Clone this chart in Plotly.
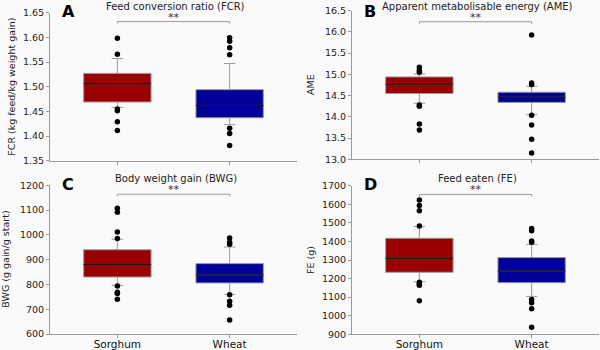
import plotly.graph_objects as go

groups = ["Sorghum", "Wheat"]
panel_letters = ["A", "B", "C", "D"]
panel_titles = ["Feed conversion ratio (FCR)", "Apparent metabolisable energy (AME)",
                "Body weight gain (BWG)", "Feed eaten (FE)"]
y_titles = ["FCR (kg feed/kg weight gain)", "AME", "BWG (g gain/g start)", "FE (g)"]
sig_text = "**"

# FCR
fcr_q1 = [1.469, 1.437]
fcr_median = [1.506, 1.462]
fcr_q3 = [1.527, 1.494]
fcr_lower = [1.458, 1.423]
fcr_upper = [1.557, 1.547]
fcr_out_sorghum = [1.598, 1.566, 1.455, 1.451, 1.429, 1.411]
fcr_out_wheat = [1.599, 1.592, 1.579, 1.565, 1.416, 1.405, 1.381]

# AME
ame_q1 = [14.55, 14.34]
ame_median = [14.77, 14.46]
ame_q3 = [14.94, 14.58]
ame_lower = [14.32, 14.05]
ame_upper = [15.01, 14.72]
ame_out_sorghum = [15.17, 15.09, 15.05, 14.28, 14.25, 13.83, 13.69]
ame_out_wheat = [15.93, 14.80, 14.76, 14.04, 13.81, 13.47, 13.15]

# BWG
bwg_q1 = [830, 806]
bwg_median = [880, 838]
bwg_q3 = [940, 884]
bwg_lower = [796, 760]
bwg_upper = [982, 951]
bwg_out_sorghum = [1107, 1091, 1012, 985, 794, 768, 763, 740]
bwg_out_wheat = [987, 970, 962, 758, 732, 716, 656]

# FE
fe_q1 = [1234, 1178]
fe_median = [1309, 1241]
fe_q3 = [1417, 1313]
fe_lower = [1183, 1104]
fe_upper = [1481, 1384]
fe_out_sorghum = [1623, 1594, 1565, 1483, 1180, 1171, 1164, 1081]
fe_out_wheat = [1470, 1458, 1402, 1395, 1088, 1070, 1038, 938]

bracket_levels = [1.632, 16.24, 1164, 1653]
y_ranges = [[1.35, 1.65], [13.0, 16.5], [600, 1200], [900, 1700]]
y_dticks = [0.05, 0.5, 100, 100]
y_formats = [".2f", ".1f", "d", "d"]

stats = [
    (fcr_q1, fcr_median, fcr_q3, fcr_lower, fcr_upper, [fcr_out_sorghum, fcr_out_wheat]),
    (ame_q1, ame_median, ame_q3, ame_lower, ame_upper, [ame_out_sorghum, ame_out_wheat]),
    (bwg_q1, bwg_median, bwg_q3, bwg_lower, bwg_upper, [bwg_out_sorghum, bwg_out_wheat]),
    (fe_q1, fe_median, fe_q3, fe_lower, fe_upper, [fe_out_sorghum, fe_out_wheat]),
]

fills = ["#990000", "#000099"]
W, H = 600, 350
FONT = "DejaVu Sans"
grey = "#9a9a9a"

# pixel layout of plot areas: (x0, x1, ytop, ybottom)
areas = [(50, 297, 12.7, 160.7), (352, 599, 10.7, 159.3),
         (50, 297, 185.3, 334.0), (352, 599, 185.7, 334.3)]
# pixel centres of panel titles and letters (y)
title_y = [6.5, 6.5, 178.5, 178.5]
letter_y = [11.0, 11.0, 184.0, 184.0]

fig = go.Figure()
layout = {}
annotations = []

for p in range(4):
    x0, x1, yt, yb = areas[p]
    xa = "x" if p == 0 else f"x{p+1}"
    ya = "y" if p == 0 else f"y{p+1}"
    xkey = "xaxis" if p == 0 else f"xaxis{p+1}"
    ykey = "yaxis" if p == 0 else f"yaxis{p+1}"
    q1, med, q3, lo, up, outs = stats[p]

    for i, g in enumerate(groups):
        fig.add_trace(go.Box(
            x=[g], q1=[q1[i]], median=[med[i]], q3=[q3[i]],
            lowerfence=[lo[i]], upperfence=[up[i]],
            fillcolor=fills[i], line=dict(color=grey, width=1),
            width=0.6, whiskerwidth=0.17, boxpoints=False,
            xaxis=xa, yaxis=ya, showlegend=False, hoverinfo="skip"))
        # darker median line
        fig.add_trace(go.Box(
            x=[g], q1=[med[i]], median=[med[i]], q3=[med[i]],
            lowerfence=[med[i]], upperfence=[med[i]],
            fillcolor="rgba(0,0,0,0)", line=dict(color="rgba(0,0,0,0.5)", width=1),
            width=0.6, whiskerwidth=0, boxpoints=False,
            xaxis=xa, yaxis=ya, showlegend=False, hoverinfo="skip"))
        fig.add_trace(go.Scatter(
            x=[g] * len(outs[i]), y=outs[i], mode="markers",
            marker=dict(color="black", size=5.5),
            xaxis=xa, yaxis=ya, showlegend=False, hoverinfo="skip"))

    # significance bracket
    span = y_ranges[p][1] - y_ranges[p][0]
    top = bracket_levels[p]
    low = top - 0.014 * span
    fig.add_trace(go.Scatter(
        x=[groups[0], groups[0], groups[1], groups[1]], y=[low, top, top, low],
        mode="lines", line=dict(color=grey, width=1),
        xaxis=xa, yaxis=ya, showlegend=False, hoverinfo="skip"))
    annotations.append(dict(x=0.5, y=top, xref=xa, yref=ya, text=sig_text,
                            showarrow=False, yanchor="bottom", yshift=-4,
                            font=dict(family=FONT, size=11, color="#333333")))

    layout[xkey] = dict(
        domain=[x0 / W, x1 / W], anchor=ya, type="category",
        categoryorder="array", categoryarray=groups, range=[-0.6, 1.6],
        showline=True, linecolor=grey, linewidth=1, ticks="outside",
        ticklen=3, tickcolor=grey, showgrid=False, zeroline=False,
        showticklabels=(p >= 2), automargin=False, ticklabelstandoff=-3,
        tickfont=dict(family=FONT, size=10.5, color="#111111"))
    layout[ykey] = dict(
        domain=[1 - yb / H, 1 - yt / H], anchor=xa, range=y_ranges[p],
        dtick=y_dticks[p], tickformat=y_formats[p],
        showline=True, linecolor=grey, linewidth=1, ticks="outside",
        ticklen=3, tickcolor=grey, showgrid=False, zeroline=False,
        automargin=False,
        tickfont=dict(family=FONT, size=9.5, color="#222222"))

    # panel title
    annotations.append(dict(x=(x0 + x1) / 2 / W + 0.004, y=1 - title_y[p] / H,
                            xref="paper", yref="paper", text=panel_titles[p],
                            showarrow=False, xanchor="center", yanchor="middle",
                            font=dict(family=FONT, size=10, color="#222222")))
    # panel letter
    annotations.append(dict(x=(x0 + 10) / W, y=1 - letter_y[p] / H,
                            xref="paper", yref="paper", text=f"<b>{panel_letters[p]}</b>",
                            showarrow=False, xanchor="left", yanchor="middle",
                            font=dict(family=FONT, size=16, color="black")))
    # y title
    ytx = [12, 310, 6, 310][p]
    annotations.append(dict(x=ytx / W, y=1 - (yt + yb) / 2 / H,
                            xref="paper", yref="paper", text=y_titles[p],
                            textangle=-90, showarrow=False,
                            xanchor="center", yanchor="middle",
                            font=dict(family=FONT, size=9.5, color="#222222")))

fig.update_layout(
    width=W, height=H, margin=dict(l=0, r=0, t=0, b=0),
    paper_bgcolor="#fafafa", plot_bgcolor="#fafafa",
    boxmode="overlay", annotations=annotations, **layout)

fig.write_html("out.html")
